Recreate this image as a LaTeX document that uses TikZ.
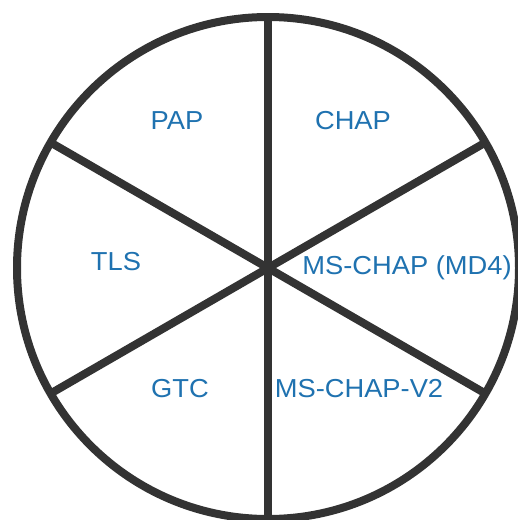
\documentclass[tikz,border=0pt]{standalone}
\usepackage{fontspec}
\setmainfont{Liberation Sans}
\usetikzlibrary{calc}
\definecolor{rim}{HTML}{333333}
\definecolor{lab}{HTML}{1F72B0}
\begin{document}
\begin{tikzpicture}[x=1pt,y=-1pt,
  rimline/.style={draw=rim,line width=8pt},
  seglabel/.style={text=lab,font=\fontsize{26}{30}\selectfont,inner sep=0pt,xscale=1.05}]
\useasboundingbox (0,0) rectangle (518,520);
\clip (0,0) rectangle (518,520);
\fill[white] (0,0) rectangle (518,520);
\coordinate (c) at (268,268);
\foreach \a/\n in {90/top,-90/bot,30/ur,150/ul,210/ll,330/lr}{
  \coordinate (\n) at ($(c)+(\a:251)$);
}
\draw[rimline] (c) circle[radius=251];
\draw[rimline] (top) -- (bot);
\draw[rimline] (ul) -- (lr);
\draw[rimline] (ur) -- (ll);
\node[seglabel] (pap) at (177,121) {PAP};
\node[seglabel] (chap) at (353,121) {CHAP};
\node[seglabel] (tls) at (116,262) {TLS};
\node[seglabel] (md4) at (407,268) {MS-CHAP (MD4)};
\node[seglabel] (gtc) at (180,389) {GTC};
\node[seglabel] (v2) at (359,389) {MS-CHAP-V2};
\end{tikzpicture}
\end{document}
